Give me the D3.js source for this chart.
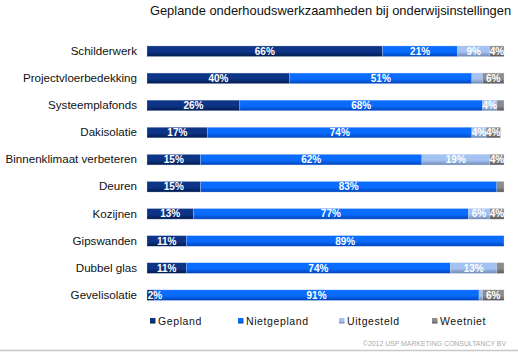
<!DOCTYPE html>
<html>
<head>
<meta charset="utf-8">
<script src="https://cdn.jsdelivr.net/npm/d3@7"></script>
<style>
  body { margin: 0; background: #fff; }
  svg { display: block; font-family: Arial, "Liberation Sans", sans-serif; }
</style>
</head>
<body>
<div id="chart"></div>
<script>
// data
const categories = ['Schilderwerk', 'Projectvloerbedekking', 'Systeemplafonds', 'Dakisolatie',
    'Binnenklimaat verbeteren', 'Deuren', 'Kozijnen', 'Gipswanden', 'Dubbel glas', 'Gevelisolatie']
const seriesNames = ['Gepland', 'Nietgepland', 'Uitgesteld', 'Weetniet']
const gepland     = [66, 40, 26, 17, 15, 15, 13, 11, 11, 2]
const nietGepland = [21, 51, 68, 74, 62, 83, 77, 89, 74, 91]
const uitgesteld  = [9, 3, 4, 4, 19, 0, 6, 0, 13, 1]
const weetNiet    = [4, 6, 2, 4, 4, 2, 4, 0, 2, 6]
const title = 'Geplande onderhoudswerkzaamheden bij onderwijsinstellingen'
const footer = '©2012 USP MARKETING CONSULTANCY BV'

const width = 518, height = 352
const colors = [
    ['#0d3486', '#001a4d'],
    ['#0a6cff', '#0043b8'],
    ['#a4c2f2', '#6f88b3'],
    ['#8c8c8c', '#565656']
]

const svg = d3.select('#chart').append('svg')
    .attr('width', width)
    .attr('height', height)

// gradients voor de balken
const defs = svg.append('defs')
colors.forEach((c, i) => {
    const g = defs.append('linearGradient')
        .attr('id', 'grad' + i)
        .attr('x1', 0).attr('y1', 0).attr('x2', 0).attr('y2', 1)
    g.append('stop').attr('offset', '0%').attr('stop-color', c[0])
    g.append('stop').attr('offset', '55%').attr('stop-color', c[0])
    g.append('stop').attr('offset', '100%').attr('stop-color', c[1])
})

const x = d3.scaleLinear().domain([0, 100]).range([147, 504])
const y = d3.scaleBand()
    .domain(categories)
    .range([37.7, 37.7 + 27.1 * categories.length])
    .paddingInner(0.61)
    .paddingOuter(0.305)

// segmenten met begin- en eindwaarde
const segments = []
categories.forEach((c, i) => {
    let acc = 0
    ;[gepland[i], nietGepland[i], uitgesteld[i], weetNiet[i]].forEach((v, k) => {
        segments.push({ cat: c, k: k, v: v, start: acc, end: acc + v })
        acc += v
    })
})
const visible = segments.filter(d => d.v > 0)

// titel
svg.append('text')
    .attr('x', 330.5)
    .attr('y', 15)
    .attr('text-anchor', 'middle')
    .attr('font-size', 12.9)
    .attr('fill', '#111')
    .text(title)

// categorie-as
svg.append('g')
    .attr('transform', 'translate(140,0)')
    .call(d3.axisLeft(y).tickSize(0).tickPadding(3))
    .call(g => g.select('.domain').remove())
    .selectAll('text')
    .attr('font-size', 11.6)
    .attr('font-family', 'Arial, "Liberation Sans", sans-serif')
    .attr('fill', '#111')

svg.append('g').selectAll('rect')
    .data(visible)
    .join('rect')
    .attr('x', d => x(d.start))
    .attr('y', d => y(d.cat))
    .attr('width', d => x(d.end) - x(d.start))
    .attr('height', y.bandwidth())
    .attr('fill', d => 'url(#grad' + d.k + ')')
    .attr('stroke', '#c8d6f0')
    .attr('stroke-width', 0.5)
    .attr('stroke-opacity', 0.6)

// labels pas na alle balken, zodat kleine waarden niet worden afgedekt
svg.append('g').selectAll('text')
    .data(visible.filter(d => d.v >= 4 || d.k === 0))
    .join('text')
    .attr('x', d => d.v < 4 ? x(d.start) + 8 : (x(d.start) + x(d.end)) / 2)
    .attr('y', d => y(d.cat) + y.bandwidth() / 2)
    .attr('dy', '0.36em')
    .attr('text-anchor', 'middle')
    .attr('font-size', 10)
    .attr('font-weight', 'bold')
    .attr('fill', '#fff')
    .text(d => d.v + '%')

// legenda
const legendX = [150, 238, 339, 432]
const legend = svg.append('g')
seriesNames.forEach((s, i) => {
    legend.append('rect')
        .attr('x', legendX[i])
        .attr('y', 318)
        .attr('width', 5.5)
        .attr('height', 5.5)
        .attr('fill', 'url(#grad' + i + ')')
    legend.append('text')
        .attr('x', legendX[i] + 8)
        .attr('y', 324.5)
        .attr('font-size', 10.5)
        .attr('letter-spacing', 0.6)
        .attr('fill', '#111')
        .text(s)
})

// voettekst
svg.append('text')
    .attr('x', 506)
    .attr('y', 346)
    .attr('text-anchor', 'end')
    .attr('font-size', 6.9)
    .attr('fill', '#aaa')
    .text(footer)

svg.append('line')
    .attr('x1', 0).attr('x2', width)
    .attr('y1', 350.5).attr('y2', 350.5)
    .attr('stroke', '#c8c8c8')
    .attr('stroke-width', 1.5)
</script>
</body>
</html>
